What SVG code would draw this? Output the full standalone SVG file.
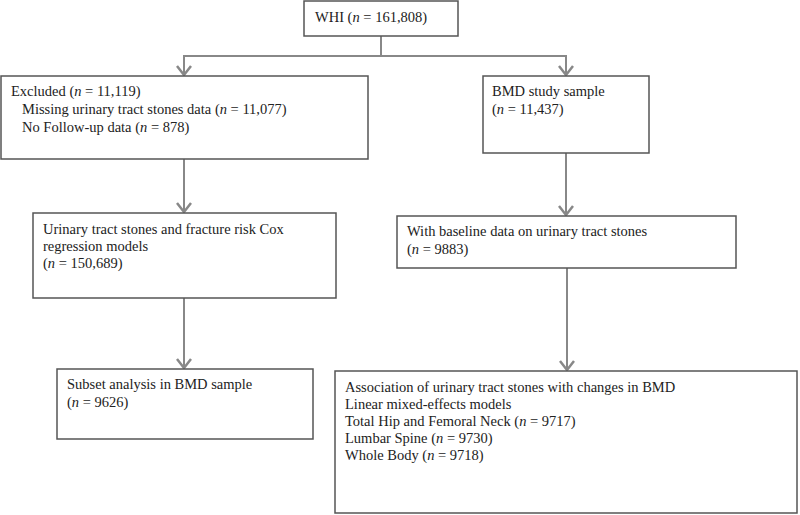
<svg xmlns="http://www.w3.org/2000/svg" width="800" height="515" viewBox="0 0 800 515">
<style>
.box{fill:#fff;stroke:#555;stroke-width:1.5}
.t{font-family:"Liberation Serif","Times New Roman",serif;font-size:14.5px;fill:#222}
.c{fill:none;stroke:#888;stroke-width:2}
</style>
<defs>
<marker id="ah" markerUnits="userSpaceOnUse" markerWidth="14" markerHeight="18" refX="11" refY="8" orient="auto" viewBox="0 0 14 16">
<path d="M2,1 L11,8 L2,15" fill="none" stroke="#888" stroke-width="2.5"/>
</marker>
</defs>
<g id="connectors">
<path class="c" d="M381,36 V56 H184 V75" marker-end="url(#ah)"/>
<path class="c" d="M381,56 H566 V75" marker-end="url(#ah)"/>
<path class="c" d="M184,159 V212" marker-end="url(#ah)"/>
<path class="c" d="M566,153 V215" marker-end="url(#ah)"/>
<path class="c" d="M184,298 V368" marker-end="url(#ah)"/>
<path class="c" d="M567,268 V370" marker-end="url(#ah)"/>
</g>
<g id="whi">
<rect class="box" x="304" y="1" width="154" height="35"/>
<text class="t" x="315" y="22">WHI (<tspan font-style="italic">n</tspan> = 161,808)</text>
</g>
<g id="excluded">
<rect class="box" x="1" y="76" width="367" height="83"/>
<text class="t" x="11" y="96">Excluded (<tspan font-style="italic">n</tspan> = 11,119)</text>
<text class="t" x="22" y="114">Missing urinary tract stones data (<tspan font-style="italic">n</tspan> = 11,077)</text>
<text class="t" x="22" y="132">No Follow-up data (<tspan font-style="italic">n</tspan> = 878)</text>
</g>
<g id="bmd">
<rect class="box" x="483" y="76" width="166" height="77"/>
<text class="t" x="492" y="96">BMD study sample</text>
<text class="t" x="492" y="114">(<tspan font-style="italic">n</tspan> = 11,437)</text>
</g>
<g id="cox">
<rect class="box" x="33" y="213" width="303" height="85"/>
<text class="t" x="43" y="234">Urinary tract stones and fracture risk Cox</text>
<text class="t" x="43" y="251">regression models</text>
<text class="t" x="43" y="268">(<tspan font-style="italic">n</tspan> = 150,689)</text>
</g>
<g id="baseline">
<rect class="box" x="397" y="216" width="339" height="52"/>
<text class="t" x="407" y="236">With baseline data on urinary tract stones</text>
<text class="t" x="407" y="254">(<tspan font-style="italic">n</tspan> = 9883)</text>
</g>
<g id="subset">
<rect class="box" x="57" y="369" width="256" height="70"/>
<text class="t" x="67" y="389">Subset analysis in BMD sample</text>
<text class="t" x="67" y="407">(<tspan font-style="italic">n</tspan> = 9626)</text>
</g>
<g id="association">
<rect class="box" x="335" y="371" width="462" height="142"/>
<text class="t" x="345" y="392">Association of urinary tract stones with changes in BMD</text>
<text class="t" x="345" y="409">Linear mixed-effects models</text>
<text class="t" x="345" y="426">Total Hip and Femoral Neck (<tspan font-style="italic">n</tspan> = 9717)</text>
<text class="t" x="345" y="443">Lumbar Spine (<tspan font-style="italic">n</tspan> = 9730)</text>
<text class="t" x="345" y="460">Whole Body (<tspan font-style="italic">n</tspan> = 9718)</text>
</g>
</svg>
